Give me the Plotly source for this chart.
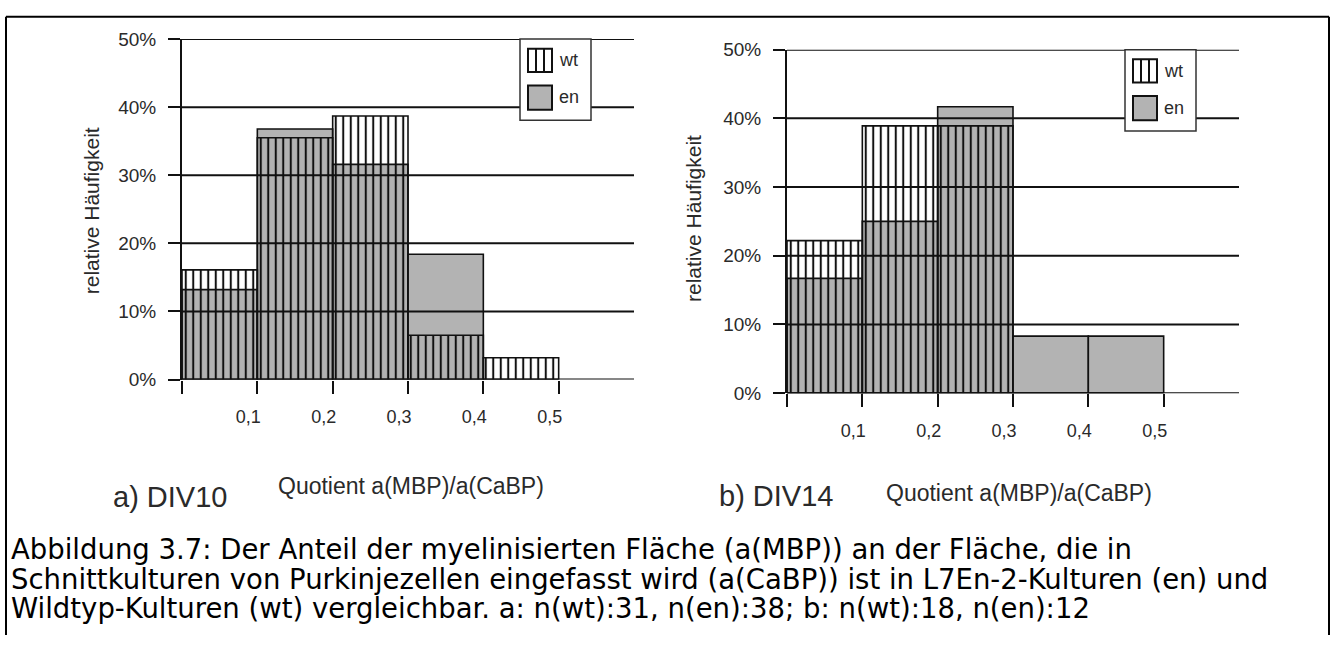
import plotly.graph_objects as go

# ---------------- data ----------------
bin_starts = [0.0, 0.1, 0.2, 0.3, 0.4]
bin_width = 0.1
wt_a = [16.1, 35.5, 38.7, 6.5, 3.2]     # DIV10, n(wt)=31
en_a = [13.2, 36.8, 31.6, 18.4, 0.0]    # DIV10, n(en)=38
wt_b = [22.2, 38.9, 38.9, 0.0, 0.0]     # DIV14, n(wt)=18
en_b = [16.7, 25.0, 41.7, 8.3, 8.3]     # DIV14, n(en)=12
x_tickvals = [0.0, 0.1, 0.2, 0.3, 0.4, 0.5]
x_ticktext = ["", "0,1", "0,2", "0,3", "0,4", "0,5"]
y_tickvals = [0, 10, 20, 30, 40, 50]
y_ticktext = ["0%", "10%", "20%", "30%", "40%", "50%"]
series_names = ["wt", "en"]
panel_labels = ["a) DIV10", "b) DIV14"]
x_title = "Quotient a(MBP)/a(CaBP)"
y_title = "relative Häufigkeit"
caption_lines = [
    "Abbildung 3.7: Der Anteil der myelinisierten Fläche (a(MBP)) an der Fläche, die in",
    "Schnittkulturen von Purkinjezellen eingefasst wird (a(CaBP)) ist in L7En-2-Kulturen (en) und",
    "Wildtyp-Kulturen (wt) vergleichbar. a: n(wt):31, n(en):38; b: n(wt):18, n(en):12",
]

# ---------------- layout helpers ----------------
W, H = 1334, 646
def px(x):
    return x / W
def py(y):
    return 1 - y / H

FONT = "Liberation Sans, Arial, Helvetica, sans-serif"
WIDEFONT = "DejaVu Sans, Verdana, sans-serif"
INK = "#111111"
GRAY = "#b3b3b3"
TXT = "#2a2a2a"

centers = [s + bin_width / 2 for s in bin_starts]

fig = go.Figure()

panels = [
    dict(wt=wt_a, en=en_a, xa="x", ya="y", dx=0, dy=0),
    dict(wt=wt_b, en=en_b, xa="x2", ya="y2", dx=605, dy=11),
]

for i, p in enumerate(panels):
    fig.add_trace(go.Bar(
        x=centers, y=p["en"], width=bin_width, name=series_names[1],
        xaxis=p["xa"], yaxis=p["ya"], showlegend=False,
        marker=dict(color=GRAY, line=dict(color=INK, width=1.6)),
    ))
    fig.add_trace(go.Bar(
        x=centers, y=p["wt"], width=bin_width, name=series_names[0],
        xaxis=p["xa"], yaxis=p["ya"], showlegend=False,
        marker=dict(color="rgba(0,0,0,0)", line=dict(color=INK, width=1.6),
                    pattern=dict(shape="|", size=7.5, solidity=0.27,
                                 fgcolor=INK, bgcolor="rgba(0,0,0,0)",
                                 fillmode="replace")),
    ))

axis_common_x = dict(range=[0, 0.6], tickmode="array", tickvals=x_tickvals,
                     ticktext=x_ticktext, ticks="outside", ticklen=13, tickwidth=2,
                     tickcolor=INK, showgrid=False, zeroline=False, showline=False,
                     ticklabelshift=-9, ticklabelstandoff=8,
                     tickfont=dict(family=FONT, size=18, color=TXT), fixedrange=True)
axis_common_y = dict(range=[0, 50], tickmode="array", tickvals=y_tickvals,
                     ticktext=y_ticktext, ticks="outside", ticklen=12, tickwidth=2,
                     tickcolor=INK, showgrid=False, zeroline=False, showline=True,
                     linewidth=2, linecolor=INK, ticklabelstandoff=8,
                     tickfont=dict(family=FONT, size=19, color=TXT), fixedrange=True)

fig.update_layout(
    width=W, height=H, margin=dict(l=0, r=0, t=0, b=0),
    paper_bgcolor="white", plot_bgcolor="rgba(0,0,0,0)",
    barmode="overlay", showlegend=False,
    xaxis=dict(domain=[px(182), px(634)], anchor="y", **axis_common_x),
    yaxis=dict(domain=[py(382), py(30)], anchor="x", **axis_common_y),
    xaxis2=dict(domain=[px(787), px(1239)], anchor="y2", **axis_common_x),
    yaxis2=dict(domain=[py(396), py(41)], anchor="x2", **axis_common_y),
)

shapes = []
annotations = []

# gridlines above bars
for i, p in enumerate(panels):
    xa, ya = p["xa"], p["ya"]
    for v in y_tickvals:
        shapes.append(dict(type="line", xref=f"{xa} domain", yref=ya,
                           x0=0, x1=1, y0=v, y1=v, layer="above",
                           line=dict(color=INK, width=2)))

# manual legend boxes
for i, p in enumerate(panels):
    dx, dy = p["dx"], p["dy"]
    bx0, bx1, by0, by1 = 520 + dx, 591 + dx, 30 + dy, 114 + dy
    shapes.append(dict(type="rect", xref="paper", yref="paper",
                       x0=px(bx0), x1=px(bx1), y0=py(by1), y1=py(by0), layer="above",
                       fillcolor="white", line=dict(color="#333333", width=1.5)))
    sx0, sx1 = 528 + dx, 552 + dx
    wy0, wy1 = 40 + dy, 64 + dy
    shapes.append(dict(type="rect", xref="paper", yref="paper",
                       x0=px(sx0), x1=px(sx1), y0=py(wy1), y1=py(wy0), layer="above",
                       fillcolor="white", line=dict(color=INK, width=2)))
    for k in (1, 2):
        xx = sx0 + k * (sx1 - sx0) / 3
        shapes.append(dict(type="line", xref="paper", yref="paper",
                           x0=px(xx), x1=px(xx), y0=py(wy1), y1=py(wy0), layer="above",
                           line=dict(color=INK, width=2)))
    ey0, ey1 = 78 + dy, 103 + dy
    shapes.append(dict(type="rect", xref="paper", yref="paper",
                       x0=px(sx0), x1=px(sx1), y0=py(ey1), y1=py(ey0), layer="above",
                       fillcolor=GRAY, line=dict(color=INK, width=2)))
    annotations.append(dict(xref="paper", yref="paper", x=px(557 + dx), y=py(52 + dy),
                            text=series_names[0], showarrow=False, xanchor="left",
                            yanchor="middle",
                            font=dict(family=FONT, size=18, color=TXT)))
    annotations.append(dict(xref="paper", yref="paper", x=px(557 + dx), y=py(90 + dy),
                            text=series_names[1], showarrow=False, xanchor="left",
                            yanchor="middle",
                            font=dict(family=FONT, size=18, color=TXT)))

# axis titles and panel labels
ytitle_pos = [(91, 207), (694, 216)]
xtitle_pos = [(411, 492), (1019, 499)]
label_pos = [(170, 503), (776, 502)]
for i in range(2):
    annotations.append(dict(xref="paper", yref="paper", x=px(ytitle_pos[i][0]),
                            y=py(ytitle_pos[i][1]), text=y_title, textangle=-90,
                            showarrow=False, xanchor="center", yanchor="middle",
                            font=dict(family=FONT, size=21, color=TXT)))
    annotations.append(dict(xref="paper", yref="paper", x=px(xtitle_pos[i][0]),
                            y=py(xtitle_pos[i][1]), text=x_title,
                            showarrow=False, xanchor="center", yanchor="middle",
                            font=dict(family=FONT, size=23, color=TXT)))
    annotations.append(dict(xref="paper", yref="paper", x=px(label_pos[i][0]),
                            y=py(label_pos[i][1]), text=panel_labels[i],
                            showarrow=False, xanchor="center", yanchor="middle",
                            font=dict(family=FONT, size=29, color=TXT)))

# caption
cap_y = [557, 588, 618]
for line, yy in zip(caption_lines, cap_y):
    annotations.append(dict(xref="paper", yref="paper", x=px(9), y=py(yy),
                            text=line, showarrow=False, xanchor="left",
                            yanchor="middle",
                            font=dict(family=WIDEFONT, size=27.5, color="#000000")))

# document frame
frame = dict(color="#000000", width=2)
shapes.append(dict(type="line", xref="paper", yref="paper", x0=px(6), x1=px(1329),
                   y0=py(7), y1=py(7), line=frame, layer="above"))
shapes.append(dict(type="line", xref="paper", yref="paper", x0=px(6), x1=px(6),
                   y0=py(7), y1=0, line=frame, layer="above"))
shapes.append(dict(type="line", xref="paper", yref="paper", x0=px(1329), x1=px(1329),
                   y0=py(7), y1=0, line=frame, layer="above"))

fig.update_layout(shapes=shapes, annotations=annotations)

fig.write_html("out.html")
